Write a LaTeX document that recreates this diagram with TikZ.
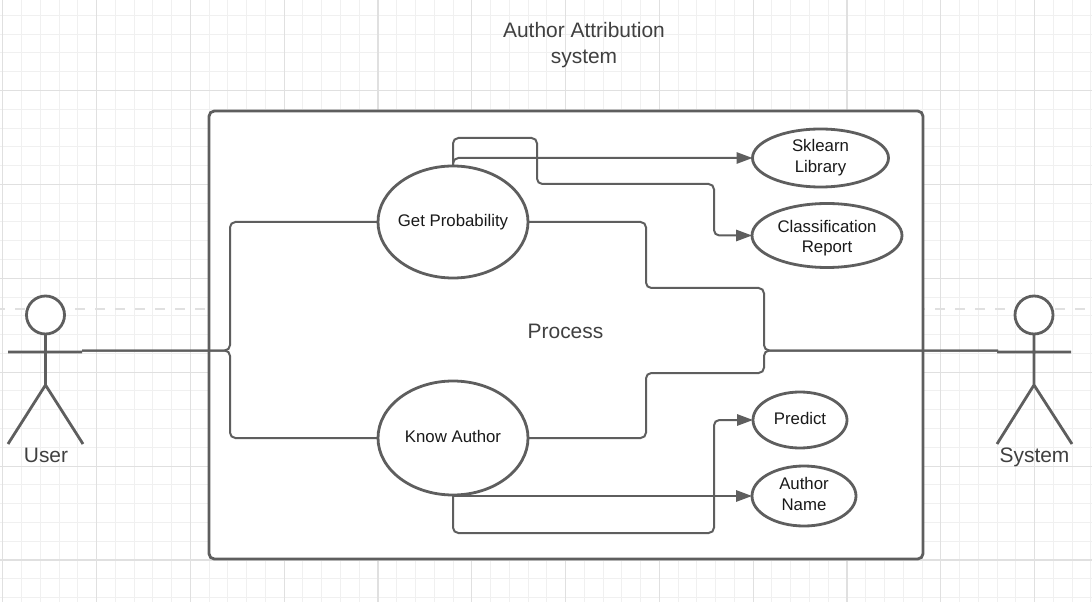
\documentclass[tikz,border=0pt]{standalone}
\usepackage{fontspec}
\setmainfont{Liberation Sans}
\usetikzlibrary{shapes.geometric,arrows.meta}
\definecolor{linegray}{HTML}{5E5E5E}
\definecolor{gridminor}{HTML}{F0F0F0}
\definecolor{gridmajor}{HTML}{E0E0E0}
\begin{document}
\begin{tikzpicture}[x=0.75pt,y=-0.75pt,
                       main box/.style={draw=linegray,line width=2.1pt,rounded corners=4pt,fill=white},
                       use case/.style={ellipse,draw=linegray,line width=2.1pt,fill=white,inner sep=-8pt,outer sep=0pt,font=\fontsize{12.6pt}{15.6pt}\selectfont,align=center,text=black!90},
                       stick/.style={draw=linegray,line width=2.1pt},
                       link/.style={draw=linegray,line width=1.5pt,rounded corners=4pt},
                       link arrow/.style={link,-{Triangle[length=12pt,width=8.5pt]}},
                       caption/.style={font=\fontsize{15.7pt}{19pt}\selectfont,align=center,text=black!75}
                      ]
  \useasboundingbox (0,0) rectangle (1092,602);
  \fill[white] (0,0) rectangle (1092,602);

  \foreach \gx in {0,...,58}
    \draw[gridminor,line width=0.75pt] ({2.8+18.76*\gx},0) -- ({2.8+18.76*\gx},602);
  \foreach \gy in {-4,...,27}
    \draw[gridminor,line width=0.75pt] (0,{90.5+18.78*\gy}) -- (1092,{90.5+18.78*\gy});
  \foreach \gx in {0,...,11}
    \draw[gridmajor,line width=0.9pt] ({2.8+93.8*\gx},0) -- ({2.8+93.8*\gx},602);
  \foreach \gy in {0,...,5}
    \draw[gridmajor,line width=0.9pt] (0,{90.5+93.9*\gy}) -- (1092,{90.5+93.9*\gy});
  \draw[gridmajor,line width=2.2pt,dash pattern=on 7.5pt off 7.5pt,dash phase=3.75pt] (0,309) -- (1092,309);

  \node[main box,minimum width=535.5pt,minimum height=336pt,inner sep=0pt] (process box) at (566,335) {};

  \node[caption] (title) at (584,45) {Author Attribution\\system};
  \node[caption] (process) at (565.5,331) {Process};

  \node[use case,minimum width=112.5pt,minimum height=84pt] (getprob) at (453,222) {\raisebox{1.5pt}{Get Probability}};
  \node[use case,minimum width=112.5pt,minimum height=85.5pt] (know) at (453,438) {\raisebox{3pt}{Know Author}};
  \node[use case,minimum width=102pt,minimum height=43.5pt] (sklearn) at (820.5,158) {\raisebox{0.7pt}{Sklearn}\\\raisebox{0.7pt}{Library}};
  \node[use case,minimum width=112.5pt,minimum height=48pt] (report) at (827,235.5) {\rule{0pt}{13pt}Classification\\Report};
  \node[use case,minimum width=70.5pt,minimum height=42pt] (predict) at (800,420) {\raisebox{3pt}{Predict}};
  \node[use case,minimum width=78pt,minimum height=45pt] (name) at (804,496) {\raisebox{3pt}{Author}\\\raisebox{3pt}{Name}};

  \node[circle,stick,fill=white,minimum size=28.5pt,inner sep=0pt,outer sep=0pt] (user head) at (45.5,315) {};
  \coordinate (user hip) at (45.5,385);
  \coordinate (user left) at (8,352);
  \coordinate (user right) at (82,352);
  \coordinate (user lfoot) at (8,444);
  \coordinate (user rfoot) at (83,444);
  \node[caption] (user label) at (46,455) {User};

  \node[circle,stick,fill=white,minimum size=28.5pt,inner sep=0pt,outer sep=0pt] (system head) at (1034,315) {};
  \coordinate (system hip) at (1034,385);
  \coordinate (system left) at (997,352);
  \coordinate (system right) at (1071,352);
  \coordinate (system lfoot) at (997,444);
  \coordinate (system rfoot) at (1072,444);
  \node[caption] (system label) at (1034.5,457) {System};

  \draw[stick] (user head.south) -- (user hip) (user left) -- (user right)
               (user lfoot) -- (user hip) -- (user rfoot);
  \draw[stick] (system head.south) -- (system hip) (system left) -- (system right)
               (system lfoot) -- (system hip) -- (system rfoot);

  \coordinate (user hand) at (82,350.5);
  \coordinate (system hand) at (998,350.5);

  \draw[link] (user hand) -- (230,350.5) -- (230,222) -- (getprob.west);
  \draw[link] (user hand) -- (230,350.5) -- (230,438) -- (know.west);
  \draw[link] (getprob.east) -- (646,222) -- (646,288) -- (764,288) -- (764,350.5) -- (system hand);
  \draw[link] (know.east) -- (646,438) -- (646,373) -- (764,373) -- (764,350.5) -- (system hand);

  \draw[link arrow] (getprob.north) -- (453,158) -- (sklearn.west);
  \draw[link arrow] (getprob.north) -- (453,138) -- (537,138) -- (537,184) -- (714,184) -- (714,235.5) -- (report.west);
  \draw[link arrow,sharp corners] (know.south) |- (name.west);
  \draw[link arrow] (know.south) -- (453,533) -- (714,533) -- (714,420) -- (predict.west);
\end{tikzpicture}
\end{document}
